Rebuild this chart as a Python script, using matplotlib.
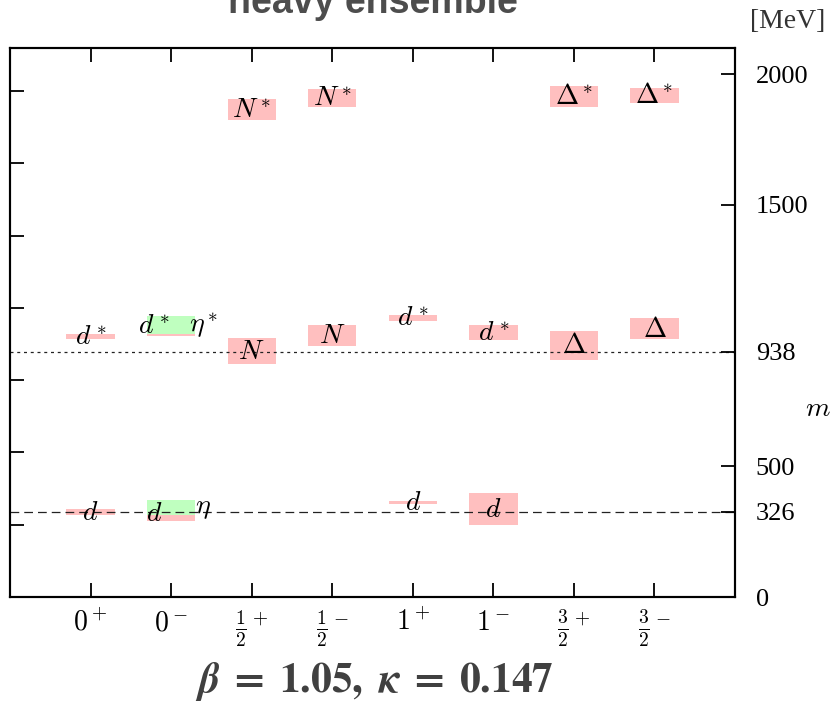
import matplotlib
matplotlib.use("Agg")
import matplotlib.pyplot as plt

plt.rcParams['mathtext.fontset'] = 'cm'

# J^P channels along the horizontal axis
channels = ['$0^+$', '$0^-$', '$\\frac{1}{2}^+$', '$\\frac{1}{2}^-$',
            '$1^+$', '$1^-$', '$\\frac{3}{2}^+$', '$\\frac{3}{2}^-$']

# Diquark / baryon states: channel number, lower and upper mass [MeV], label
pink_channel = [1, 1, 2, 2, 3, 3, 4, 4, 5, 5, 6, 6, 7, 7, 8, 8]
pink_low = [314, 986, 292, 1000, 893, 1825, 961, 1876, 357, 1057, 275, 983, 907, 1876, 987, 1891]
pink_high = [336, 1006, 352, 1072, 992, 1904, 1040, 1943, 368, 1079, 399, 1040, 1018, 1955, 1066, 1947]
pink_label = ['$d$', '$d^*$', '$d$', '$d^*$', '$N$', '$N^*$', '$N$', '$N^*$',
              '$d$', '$d^*$', '$d$', '$d^*$', '$\\Delta$', '$\\Delta^*$', '$\\Delta$', '$\\Delta^*$']
pink_label_shift = [0, 0, -0.21, -0.21, 0, 0, 0, 0, 0, 0, 0, 0, 0, 0, 0, 0]

# Pseudoscalar (eta) states
green_channel = [2, 2]
green_low = [314, 1006]
green_high = [371, 1075]
green_label = ['$\\eta$', '$\\eta^*$']
green_label_shift = [0.40, 0.40]

# Reference masses [MeV]
nucleon_mass = 938
constituent_mass = 326
right_ticks = [0, 326, 500, 938, 1500, 2000]

# Lattice spacing: inverse in MeV, left ticks in lattice units
a_inv = 1382.5
lattice_ticks = [0.0, 0.2, 0.4, 0.6, 0.8, 1.0, 1.2, 1.4]

y_max = 2100
box_width = 0.6
pink = '#ffbfbf'
green = '#bfffbf'
label_size = 20

fig = plt.figure(figsize=(8.31, 7.04), dpi=100)
ax = fig.add_axes([10 / 831, 1 - 597 / 704, 725 / 831, 549 / 704])

for c, lo, hi in zip(pink_channel, pink_low, pink_high):
    ax.bar(c, hi - lo, bottom=lo, width=box_width, color=pink, zorder=1)
for c, lo, hi in zip(green_channel, green_low, green_high):
    ax.bar(c, hi - lo, bottom=lo, width=box_width, color=green, zorder=2)

ax.axhline(nucleon_mass, color='#222222', lw=0.9, dashes=(2.4, 3.0), zorder=3)
ax.axhline(constituent_mass, color='#222222', lw=0.9, dashes=(7.0, 4.0), zorder=3)

for c, lo, hi, lab, dx in zip(pink_channel, pink_low, pink_high, pink_label, pink_label_shift):
    ax.text(c + dx, (lo + hi) / 2, lab, ha='center', va='center', fontsize=label_size, zorder=4)
for c, lo, hi, lab, dx in zip(green_channel, green_low, green_high, green_label, green_label_shift):
    ax.text(c + dx, (lo + hi) / 2, lab, ha='center', va='center', fontsize=label_size, zorder=4)

ax.set_xlim(0, 9)
ax.set_ylim(0, y_max)
ax.set_xticks(range(1, len(channels) + 1))
ax.set_xticklabels(channels, fontsize=20)
ax.set_yticks([t * a_inv for t in lattice_ticks])
ax.set_yticklabels([])
ax.tick_params(axis='x', direction='in', length=10, width=1.3, top=True, pad=8)
ax.tick_params(axis='y', direction='in', length=10, width=1.3, left=True, right=False)
for s in ax.spines.values():
    s.set_linewidth(1.5)

ax2 = ax.twinx()
ax2.set_ylim(0, y_max)
ax2.set_yticks(right_ticks)
ax2.set_yticklabels([str(t) for t in right_ticks], family='Liberation Serif', fontsize=19)
ax2.tick_params(axis='y', direction='in', length=10, width=1.3, pad=15)
for s in ax2.spines.values():
    s.set_linewidth(1.5)

fig.text(750 / 831, 1 - 21 / 704, '[MeV]', ha='left', va='center',
         family='Liberation Serif', fontsize=20, color='#333333')
fig.text(818 / 831, 1 - 408 / 704, '$m$', ha='center', va='center', fontsize=20)
fig.text(372.5 / 831, 1 - 13 / 704, 'heavy ensemble', ha='center', va='baseline',
         family='Liberation Sans', weight='bold', fontsize=27, color='#4d4d4d')
fig.text(374 / 831, 1 - 692 / 704,
         '$\\boldsymbol{\\beta}\\;\\mathbf{=}\\;\\mathbf{1.05,}\\ \\boldsymbol{\\kappa}\\;\\mathbf{=}\\;\\mathbf{0.147}$',
         ha='center', va='baseline', fontsize=30, color='#404040',
         math_fontfamily='stix')

fig.savefig('out.png', dpi=100)
